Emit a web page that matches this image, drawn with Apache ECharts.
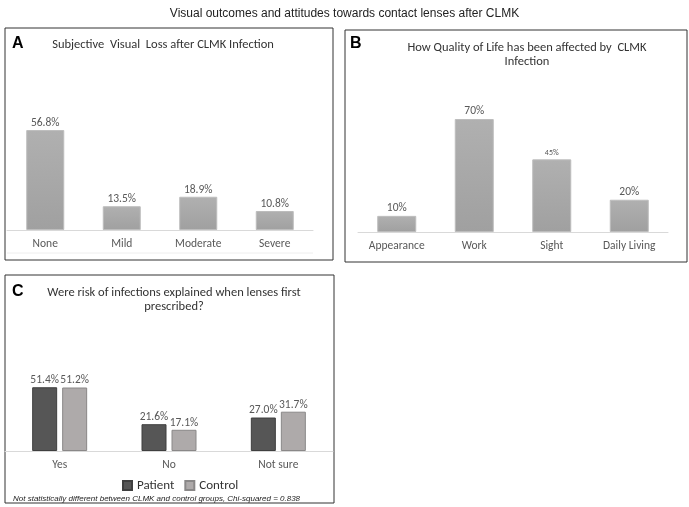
<!DOCTYPE html>
<html><head><meta charset="utf-8">
<script src="https://cdn.jsdelivr.net/npm/echarts@6/dist/echarts.min.js"></script>
<style>html,body{margin:0;padding:0;background:#fff}#c{width:689px;height:507px}</style>
</head><body><div id="c"></div>
<script>
const catsA = ['None', 'Mild', 'Moderate', 'Severe'];
const valsA = [56.8, 13.5, 18.9, 10.8];
const labelsA = ['56.8%', '13.5%', '18.9%', '10.8%'];
const catsB = ['Appearance', 'Work', 'Sight', 'Daily Living'];
const valsB = [10, 70, 45, 20];
const labelsB = ['10%', '70%', '45%', '20%'];
const catsC = ['Yes', 'No', 'Not sure'];
const patientC = [51.4, 21.6, 27.0];
const controlC = [51.2, 17.1, 31.7];
const patientLabels = ['51.4%', '21.6%', '27.0%'];
const controlLabels = ['51.2%', '17.1%', '31.7%'];

const FF = "Carlito, 'Open Sans', sans-serif";
const TXT = '#595959';
const grayGrad = new echarts.graphic.LinearGradient(0,0,0,1,[{offset:0,color:'#b0b0b0'},{offset:1,color:'#a0a0a0'}]);

function catAxis(idx, cats){
  return {type:'category', gridIndex:idx, data:cats,
    axisLine:{lineStyle:{color:'#d9d9d9'}}, axisTick:{show:false},
    axisLabel:{color:TXT, fontFamily:FF, fontSize:11.5, margin:8}};
}
function valAxis(idx){
  return {type:'value', gridIndex:idx, min:0, max:100, show:false, splitLine:{show:false}};
}
const chart = echarts.init(document.getElementById('c'), null, {renderer:'canvas'});
chart.setOption({
  animation:false,
  title:[
    {text:'Visual outcomes and attitudes towards contact lenses after CLMK', left:'center', top:3,
     textStyle:{fontFamily:'Liberation Sans, Arial', fontSize:12, fontWeight:'normal', color:'#222'}},
    {text:'Subjective  Visual  Loss after CLMK Infection', left:158, textAlign:'center', top:33,
     textStyle:{fontFamily:FF, fontSize:12.5, fontWeight:'normal', color:'#333'}},
    {text:'How Quality of Life has been affected by  CLMK\nInfection', left:522, textAlign:'center', top:36,
     textStyle:{fontFamily:FF, fontSize:12.5, fontWeight:'normal', color:'#333', lineHeight:14}},
    {text:'Were risk of infections explained when lenses first\nprescribed?', left:169, textAlign:'center', top:281,
     textStyle:{fontFamily:FF, fontSize:12.5, fontWeight:'normal', color:'#333', lineHeight:14}}
  ],
  graphic:[
    {type:'rect', shape:{x:5,y:28,width:328,height:232}, style:{fill:'none', stroke:'#333', lineWidth:1}},
    {type:'rect', shape:{x:345,y:30,width:342,height:232}, style:{fill:'none', stroke:'#333', lineWidth:1}},
    {type:'rect', shape:{x:5,y:275,width:329,height:228}, style:{fill:'none', stroke:'#333', lineWidth:1}},
    {type:'line', shape:{x1:7,y1:253,x2:313,y2:253}, style:{stroke:'#eeeeee', lineWidth:1}},
    {type:'text', left:12, top:36, style:{text:'A', font:'bold 16px Liberation Sans, Arial', fill:'#000'}},
    {type:'text', left:350, top:36, style:{text:'B', font:'bold 16px Liberation Sans, Arial', fill:'#000'}},
    {type:'text', left:12, top:284, style:{text:'C', font:'bold 16px Liberation Sans, Arial', fill:'#000'}},
    {type:'text', left:13, top:495, style:{text:'Not statistically different between CLMK and control groups, Chi-squared = 0.838', font:'italic 8px Liberation Sans, Arial', fill:'#222'}}
  ],
  legend:{data:['Patient','Control'], left:117, top:474, itemWidth:9, itemHeight:9, itemGap:10,
    textStyle:{fontFamily:FF, fontSize:13, color:'#333'}, icon:'rect'},
  grid:[
    {left:7, width:306, top:54, height:176},
    {left:358, width:310, top:70.6, height:161.4},
    {left:5, width:328, top:327, height:124}
  ],
  xAxis:[catAxis(0,catsA), catAxis(1,catsB), catAxis(2,catsC)],
  yAxis:[valAxis(0), valAxis(1), valAxis(2)],
  series:[
    {type:'bar', xAxisIndex:0, yAxisIndex:0, data:valsA, barWidth:38,
     itemStyle:{color:grayGrad, borderColor:'#bdbdbd', borderWidth:1},
     label:{show:true, position:'top', distance:1, color:TXT, fontFamily:FF, fontSize:11.5,
       formatter:p=>labelsA[p.dataIndex]}},
    {type:'bar', xAxisIndex:1, yAxisIndex:1, data:valsB.map((v,i)=> i===2 ? {value:v, label:{fontSize:8}} : v), barWidth:39,
     itemStyle:{color:grayGrad, borderColor:'#bdbdbd', borderWidth:1},
     label:{show:true, position:'top', distance:2, color:TXT, fontFamily:FF, fontSize:11.5,
       formatter:p=>labelsB[p.dataIndex]}},
    {name:'Patient', type:'bar', xAxisIndex:2, yAxisIndex:2, data:patientC, barWidth:25, barGap:'20%',
     itemStyle:{color:'#565656', borderColor:'#3f3f3f', borderWidth:1},
     label:{show:true, position:'top', distance:1, color:TXT, fontFamily:FF, fontSize:11.5,
       formatter:p=>patientLabels[p.dataIndex]}},
    {name:'Control', type:'bar', xAxisIndex:2, yAxisIndex:2, data:controlC, barWidth:25, barGap:'20%',
     itemStyle:{color:'#aeaaaa', borderColor:'#8a8888', borderWidth:1},
     label:{show:true, position:'top', distance:1, color:TXT, fontFamily:FF, fontSize:11.5,
       formatter:p=>controlLabels[p.dataIndex]}}
  ]
});
</script></body></html>
